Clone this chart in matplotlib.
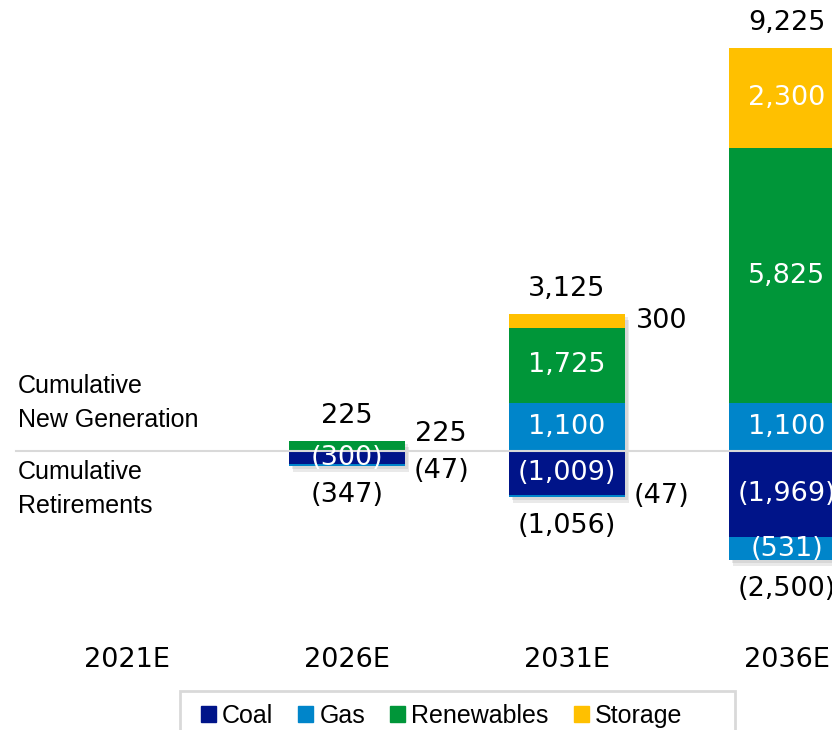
import matplotlib
matplotlib.use("Agg")
import matplotlib.pyplot as plt
import matplotlib.patheffects as pe
from matplotlib.patches import Patch, Rectangle
import numpy as np

plt.rcParams['font.family'] = ['Liberation Sans', 'DejaVu Sans']
NUM_FONT = ['DejaVu Sans']

categories = ["2021E", "2026E", "2031E", "2036E"]
coal = [0, -300, -1009, -1969]
gas_ret = [0, -47, -47, -531]
gas_new = [0, 0, 1100, 1100]
renewables = [0, 225, 1725, 5825]
storage = [0, 0, 300, 2300]

# segments labelled beside the bar instead of inside
outside = {("2026E", "Renewables"), ("2026E", "Gas_ret"), ("2031E", "Storage"), ("2031E", "Gas_ret")}

colors = {"Coal": "#001489", "Gas": "#0085ca", "Renewables": "#009639", "Storage": "#ffc000"}

W, H = 832, 730
fig = plt.figure(figsize=(W / 100, H / 100), dpi=100)
ax = fig.add_axes([0, 0, 1, 1])
scale = 0.04369  # px per unit
ax.set_xlim(-127 / 220, (W - 127) / 220)
ax.set_ylim(-(H - 451) / scale, 451 / scale)
ax.axis("off")

x = np.arange(len(categories))
width = 0.527


def fmt(v):
    return f"({abs(v):,.0f})" if v < 0 else f"{v:,.0f}"


pos_total = np.array(gas_new) + np.array(renewables) + np.array(storage)
neg_total = np.array(coal) + np.array(gas_ret)

# soft drop shadow behind each whole stack
shadow = [pe.SimplePatchShadow(offset=(3, -4), shadow_rgbFace="#888888", alpha=0.18),
          pe.SimplePatchShadow(offset=(2, -2), shadow_rgbFace="#888888", alpha=0.18),
          pe.Normal()]
for tot in (pos_total, neg_total):
    mask = tot != 0
    ax.bar(x[mask], tot[mask], width, color="white", zorder=1, path_effects=shadow)

pos_series = [("Gas", gas_new), ("Renewables", renewables), ("Storage", storage)]
neg_series = [("Coal", coal), ("Gas_ret", gas_ret)]

for stack in (pos_series, neg_series):
    bottom = np.zeros(len(categories))
    for name, vals in stack:
        vals = np.array(vals, dtype=float)
        col = colors["Gas"] if name == "Gas_ret" else colors[name]
        ax.bar(x, vals, width, bottom=bottom, color=col, zorder=2)
        for i, v in enumerate(vals):
            if v == 0:
                continue
            mid = bottom[i] + v / 2
            if (categories[i], name) in outside:
                y = max(mid, 390) if v > 0 else min(mid, -460)
                ax.text(x[i] + width / 2 + 0.165, y, fmt(v), ha="center", va="center",
                        fontsize=19.5, family=NUM_FONT, color="black", zorder=4)
            else:
                ax.text(x[i], mid, fmt(v), ha="center", va="center",
                        fontsize=19.5, family=NUM_FONT, color="white", zorder=4)
        bottom += vals

ax.axhline(0, xmin=16 / W, color="#d9d9d9", lw=1.5, zorder=3)

for i in range(len(categories)):
    if pos_total[i] != 0:
        ax.annotate(fmt(pos_total[i]), (x[i], pos_total[i]), xytext=(0, 18), textcoords="offset points",
                    ha="center", va="center", fontsize=19.5, family=NUM_FONT)
    if neg_total[i] != 0:
        ax.annotate(fmt(neg_total[i]), (x[i], neg_total[i]), xytext=(0, -21), textcoords="offset points",
                    ha="center", va="center", fontsize=19.5, family=NUM_FONT)
    ax.text(x[i], 1 - 660 / H, categories[i], transform=ax.get_xaxis_transform(),
            ha="center", va="center", fontsize=19.5, family=NUM_FONT)

fig.text(18 / W, 1 - 403 / H, "Cumulative\nNew Generation", ha="left", va="center",
         fontsize=18, linespacing=1.5)
fig.text(18 / W, 1 - 489 / H, "Cumulative\nRetirements", ha="left", va="center",
         fontsize=18, linespacing=1.5)

# legend frame, running off the bottom edge
fig.patches.append(Rectangle((180 / W, -0.05), 555 / W, 0.05 + 1 - 691 / H, transform=fig.transFigure,
                             facecolor="white", edgecolor="#d9d9d9", lw=2, zorder=5))
handles = [Patch(color=colors[k]) for k in ["Coal", "Gas", "Renewables", "Storage"]]
leg = fig.legend(handles, ["Coal", "Gas", "Renewables", "Storage"], loc="center",
                 bbox_to_anchor=(441.5 / W, 1 - 716 / H), ncol=4, fontsize=18,
                 frameon=False, handlelength=0.6, handleheight=0.6,
                 handletextpad=0.25, columnspacing=1.0, borderpad=0, borderaxespad=0)
leg.set_zorder(6)

plt.savefig("out.png", dpi=100)
